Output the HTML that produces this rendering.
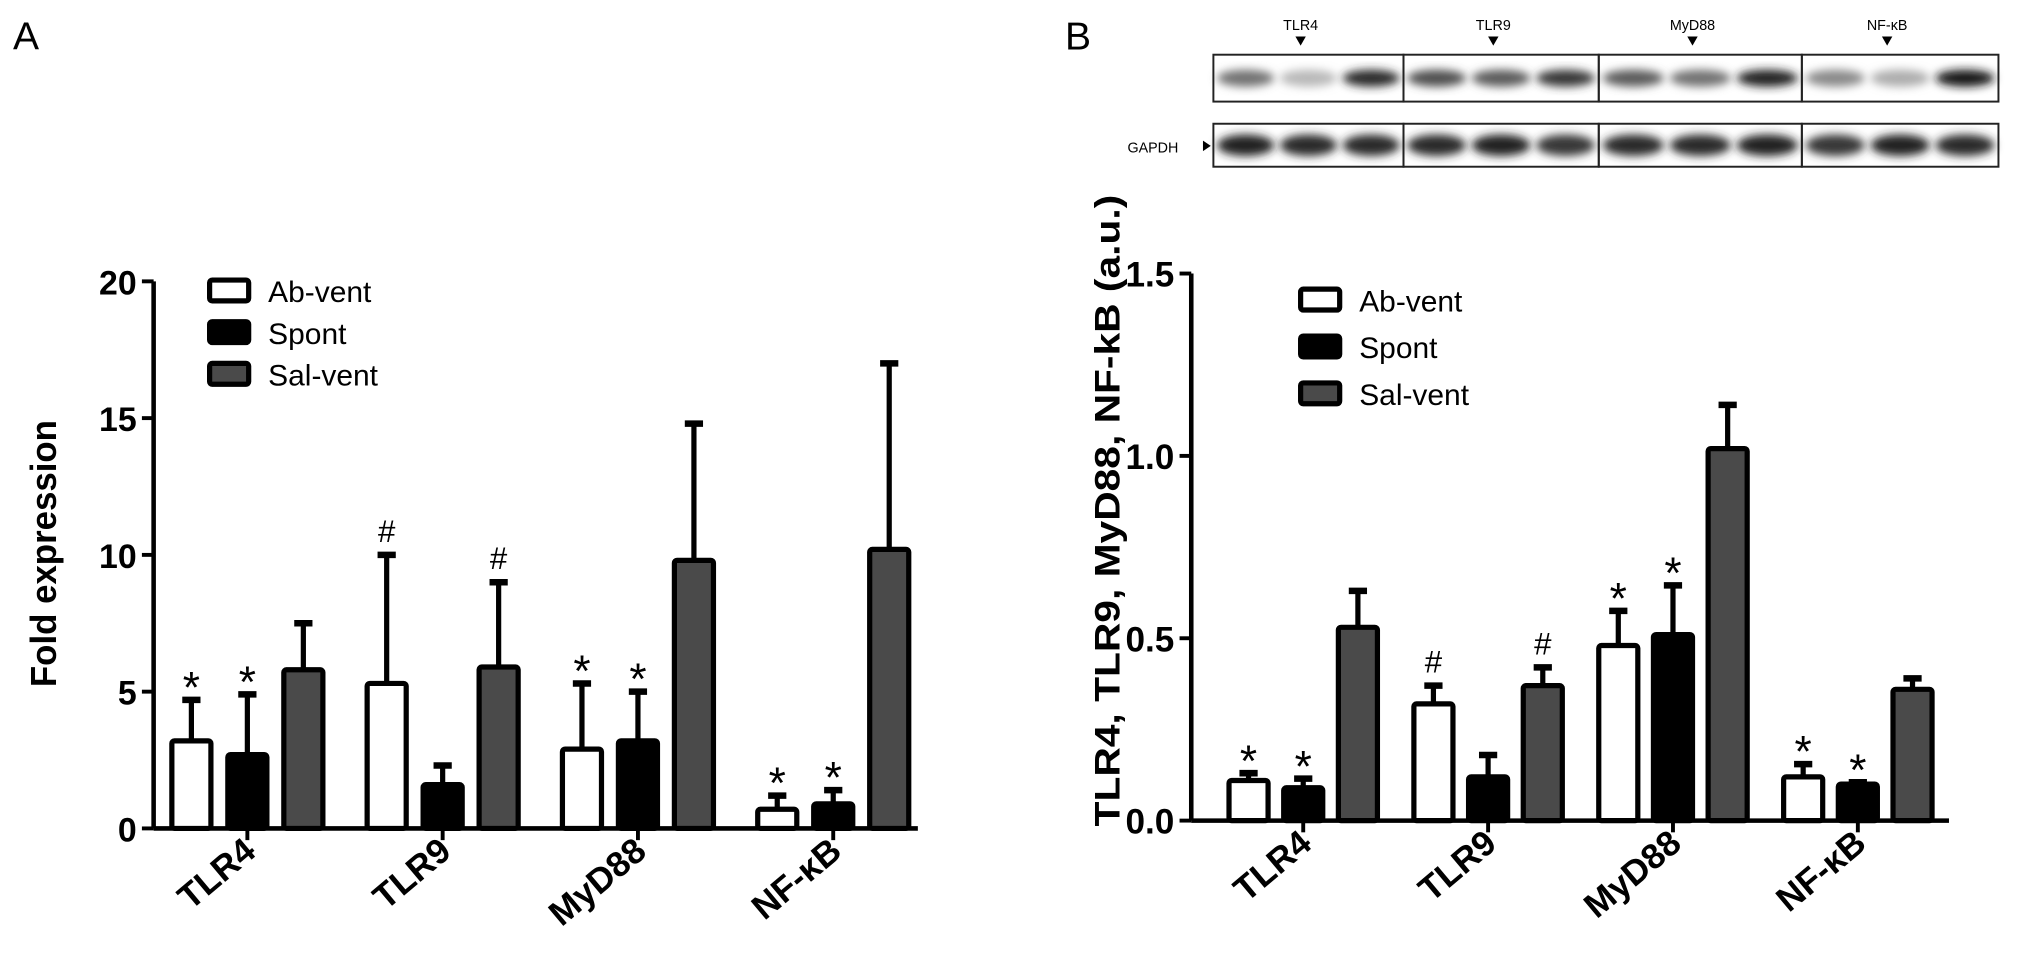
<!DOCTYPE html>
<html><head><meta charset="utf-8"><style>
html,body{margin:0;padding:0;background:#fff;}
svg{display:block;font-family:"Liberation Sans",Arial,sans-serif;}
</style></head><body>
<svg id="fig" width="2031" height="973" viewBox="0 0 1560 747" preserveAspectRatio="none">
<defs><filter id="blur" x="-50%" y="-50%" width="200%" height="200%"><feGaussianBlur stdDeviation="3.5"/></filter></defs>
<text x="10" y="38" font-size="30">A</text>
<text x="818" y="38" font-size="30">B</text>
<g id="blot"></g>
<g id="chartA"></g>
<g id="chartB"></g>
</svg>
<script>
const NS="http://www.w3.org/2000/svg";
const categories=["TLR4","TLR9","MyD88","NF-κB"];
const series=["Ab-vent","Spont","Sal-vent"];
const fills=["#ffffff","#000000","#4a4a4a"];
// Panel A (fold expression)
const aMean=[[3.2,5.3,2.9,0.7],[2.7,1.6,3.2,0.9],[5.8,5.9,9.8,10.2]];
const aErr=[[4.7,10.0,5.3,1.2],[4.9,2.3,5.0,1.4],[7.5,9.0,14.8,17.0]];
const aMarks=[["*","#","*","*"],["*","","*","*"],["","#","",""]];
const aTicks=[0,5,10,15,20];
// Panel B (a.u.)
const bMean=[[0.11,0.32,0.48,0.12],[0.09,0.12,0.51,0.10],[0.53,0.37,1.02,0.36]];
const bErr=[[0.13,0.37,0.575,0.155],[0.115,0.18,0.645,0.105],[0.63,0.42,1.14,0.39]];
const bMarks=[["*","#","*","*"],["*","","*","*"],["","#","",""]];
const bTicks=[0.0,0.5,1.0,1.5];
const bTickLabels=["0.0","0.5","1.0","1.5"];
// Blot intensities (0..1 darkness) per block, per lane
const blotTop=[[0.6,0.3,0.9],[0.75,0.7,0.85],[0.7,0.6,0.95],[0.5,0.35,1.0]];
const blotGapdh=[[0.95,0.9,0.9],[0.9,0.95,0.85],[0.9,0.9,0.95],[0.85,0.95,0.9]];
const blotLabels=["TLR4","TLR9","MyD88","NF-κB"];

function el(tag,attrs,parent,text){const e=document.createElementNS(NS,tag);for(const k in attrs)e.setAttribute(k,attrs[k]);if(text!==undefined)e.textContent=text;parent.appendChild(e);return e;}

function drawChart(g,cfg){
  const y=v=>cfg.y0-(v-cfg.vmin)/(cfg.vmax-cfg.vmin)*(cfg.y0-cfg.y1);
  const x0=cfg.ax;
  let a=el("line",{x1:x0,y1:cfg.y1,x2:x0,y2:cfg.y0,stroke:"#000","stroke-width":3.5},g);
  
  a=el("line",{x1:x0,y1:cfg.y0,x2:cfg.xend,y2:cfg.y0,stroke:"#000","stroke-width":3.5},g);
  
  cfg.ticks.forEach((t,i)=>{
    const ty=y(t);
    const l=el("line",{x1:x0-9,y1:ty,x2:x0,y2:ty,stroke:"#000","stroke-width":3},g);
    
    const tx=el("text",{x:x0-13,y:ty+10,"font-size":cfg.tickSize,"font-weight":"bold","text-anchor":"end"},g,cfg.tickLabels[i]);
    
  });
  const tt=el("text",{transform:`translate(${cfg.titleX},${cfg.titleY}) rotate(-90)`,"font-size":cfg.titleSize,"font-weight":"bold","text-anchor":"middle",textLength:cfg.titleLen,lengthAdjust:"spacingAndGlyphs"},g,cfg.title);
  
  categories.forEach((c,ci)=>{
    const cx=cfg.c0+ci*cfg.step;
    const tk=el("line",{x1:cx,y1:cfg.y0,x2:cx,y2:cfg.y0+9,stroke:"#000","stroke-width":3},g);
    
    const lb=el("text",{transform:`translate(${cx+8},${cfg.y0+20}) rotate(-40)`,"font-size":27,"font-weight":"bold","text-anchor":"end"},g,c);
    
    series.forEach((s,si)=>{
      const bx=cx+(si-1)*cfg.gap-cfg.bw/2;
      const m=cfg.mean[si][ci], e=cfg.err[si][ci];
      const mx=bx+cfg.bw/2;
      const eb=el("line",{x1:mx,y1:y(m),x2:mx,y2:y(e),stroke:"#000","stroke-width":4},g);
      
      const cap=el("line",{x1:mx-7,y1:y(e),x2:mx+7,y2:y(e),stroke:"#000","stroke-width":5},g);
      
      const r=el("rect",{x:bx,y:y(m),width:cfg.bw,height:Math.max(0,cfg.y0-y(m)),fill:fills[si],stroke:"#000","stroke-width":4,rx:2},g);
      
      
      const mk=cfg.marks[si][ci];
      if(mk){
        const big=mk==="*";
        const t=el("text",{x:mx,y:y(e)-(big?-2:10),"font-size":big?34:24,"text-anchor":"middle"},g,mk);
        
      }
    });
  });
  series.forEach((s,si)=>{
    const ly=cfg.legY+si*cfg.legStep;
    const r=el("rect",{x:cfg.legX,y:ly,width:30,height:16,fill:fills[si],stroke:"#000","stroke-width":4,rx:2},g);
    
    const t=el("text",{x:cfg.legX+45,y:ly+17,"font-size":23},g,s);
    
  });
}

drawChart(document.getElementById("chartA"),{y0:636,y1:216,vmin:0,vmax:20,ax:118,xend:705,c0:190,step:150,gap:43,bw:30,
  mean:aMean,err:aErr,marks:aMarks,ticks:aTicks,tickLabels:aTicks.map(String),tickSize:26,
  title:"Fold expression",titleX:43,titleY:425,titleSize:28,titleLen:205,legX:161,legY:215,legStep:32});
drawChart(document.getElementById("chartB"),{y0:630,y1:210,vmin:0,vmax:1.5,ax:915,xend:1497,c0:1001,step:142,gap:42,bw:30,
  mean:bMean,err:bErr,marks:bMarks,ticks:bTicks,tickLabels:bTickLabels,tickSize:27,
  title:"TLR4, TLR9, MyD88, NF-kB (a.u.)",titleX:860,titleY:392,titleSize:27,titleLen:485,legX:999,legY:222,legStep:36});

// Blot
const blot=document.getElementById("blot");
const bx=[932,1078,1228,1384,1535];
const rows=[[42,78,blotTop],[95,128,blotGapdh]];
rows.forEach(([ya,yb,data],ri)=>{
  for(let b=0;b<4;b++){
    const w=bx[b+1]-bx[b];
    [0.17,0.5,0.83].forEach((f,li)=>{
      const d=data[b][li];const g=Math.round(255-d*235);
      const e=el("ellipse",{cx:bx[b]+w*f,cy:(ya+yb)/2,rx:w*0.15,ry:(yb-ya)*(ri?0.25:0.18),fill:`rgb(${g},${g},${g})`,filter:"url(#blur)"},blot);
      
    });
    const r=el("rect",{x:bx[b],y:ya,width:w,height:yb-ya,fill:"none",stroke:"#222","stroke-width":1.5},blot);
    
  }
});
blotLabels.forEach((l,i)=>{
  const cx=(bx[i]+bx[i+1])/2-(i===3?10:6);
  const t=el("text",{x:cx,y:23,"font-size":11,"text-anchor":"middle"},blot,l);
  
  const p=el("polygon",{points:`${cx-4},28 ${cx+4},28 ${cx},35`,fill:"#000"},blot);
  
});
const gl=el("text",{x:866,y:117,"font-size":11},blot,"GAPDH");

const ga=el("polygon",{points:"924,108 924,116 930,112",fill:"#000"},blot);

</script>
</body></html>
